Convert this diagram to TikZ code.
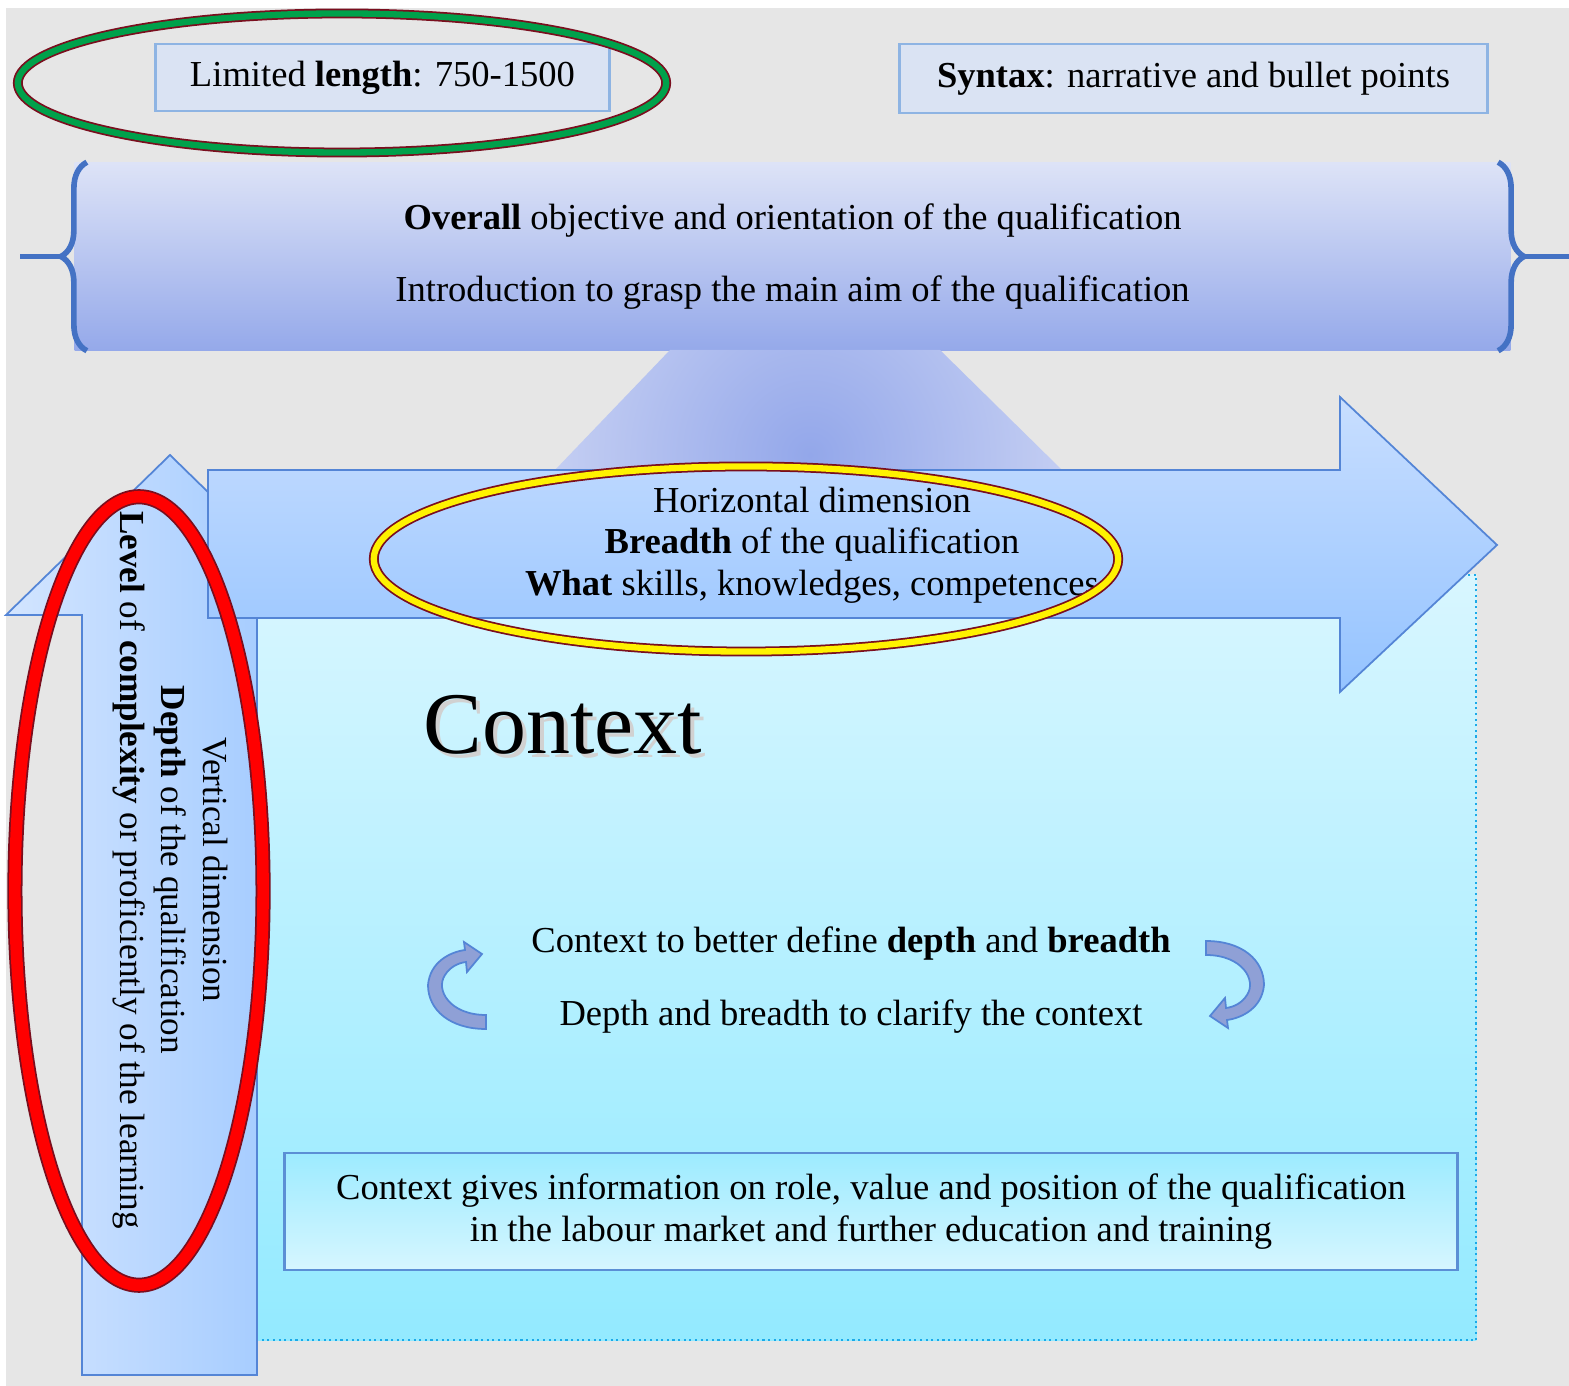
\documentclass[tikz,border=0pt]{standalone}
\usepackage{fontspec}
\setmainfont{Liberation Serif}
\usetikzlibrary{positioning,shapes.geometric,calc,decorations.pathreplacing}

\definecolor{bggray}{HTML}{E6E6E6}
\definecolor{tagfill}{HTML}{DAE3F3}
\definecolor{tagedge}{HTML}{8EB4E3}
\definecolor{bracecol}{HTML}{4472C4}
\definecolor{arrowedge}{HTML}{5485D6}
\definecolor{ringedge}{HTML}{7A0E1E}
\definecolor{ringgreen}{HTML}{00A14B}
\definecolor{ctxedge}{HTML}{1BA9E8}
\definecolor{turnfill}{HTML}{8FA0D6}
\definecolor{topA}{HTML}{DDE3F7}
\definecolor{topB}{HTML}{95A9EA}
\definecolor{funnelin}{HTML}{93A7EA}
\definecolor{funnelout}{HTML}{D8DEF6}
\definecolor{ctxA}{HTML}{D8F6FF}
\definecolor{ctxB}{HTML}{93EAFF}
\definecolor{infoA}{HTML}{9DEBFF}
\definecolor{infoB}{HTML}{D6F6FF}
\definecolor{infoedge}{HTML}{5B8FD5}
\definecolor{harrA}{HTML}{C8DEFF}
\definecolor{harrB}{HTML}{94C3FF}
\definecolor{varrA}{HTML}{D3E5FF}
\definecolor{varrB}{HTML}{9AC6FF}

\tikzset{
  turnarr/.pic={
    \filldraw[fill=turnfill, draw=arrowedge, line width=0.5pt]
      (29,30) .. controls (-7,30) and (-22,5) .. (-12,-10)
      .. controls (-7,-18) and (1,-22) .. (9,-23) -- (10,-13) -- (25,-31)
      -- (7,-43) -- (8,-35) .. controls (-7,-33) and (-27,-23) .. (-29,0)
      .. controls (-29,25) and (-7,44) .. (29,44) -- cycle;
  }
}

\begin{document}
\begin{tikzpicture}[
  x=0.01cm, y=-0.01cm,
  txt/.style={font=\fontsize{10.4}{11.8}\selectfont, align=center, inner sep=0pt},
  tagbox/.style={rectangle, draw=tagedge, line width=0.8pt, fill=tagfill,
                 txt},
  topbox/.style={rectangle, top color=topA, bottom color=topB, txt},
  ctxbox/.style={rectangle, top color=ctxA, bottom color=ctxB,
                 draw=ctxedge, densely dotted, line width=0.6pt},
  infobox/.style={rectangle, top color=infoA, bottom color=infoB,
                  draw=infoedge, line width=0.7pt, txt},
  ring/.style={ellipse, draw=ringedge, line width=0.5pt, double=#1,
               double distance=1.8pt, inner sep=0pt},
  curly/.style={draw=bracecol, line width=1.6pt, decorate,
                decoration={brace, amplitude=0.26cm}},
  edgeline/.style={draw=bracecol, line width=1.6pt},
  blockarr/.style={draw=arrowedge, line width=0.5pt}
]
\useasboundingbox (0,0) rectangle (1569,1386);
\fill[bggray] (6,8) rectangle (1569,1386);

% length and syntax
\node[tagbox, minimum width=4.53cm, minimum height=0.67cm] (lenbox)
  at (382.5,77.5) {Limited \textbf{length}: 750-1500};
\node[tagbox, minimum width=5.87cm, minimum height=0.69cm] (synbox)
  at (1193.5,78.5) {\textbf{Syntax}: narrative and bullet points};

% overall objective with brackets
\node[topbox, minimum width=14.35cm, minimum height=1.87cm] (overall)
  at (792.5,256.5) {\textbf{Overall} objective and orientation of the qualification\\[8.8pt]
  Introduction to grasp the main aim of the qualification};
\draw[curly] ($(overall.south west)+(13,0)$) -- ($(overall.north west)+(13,0)$);
\draw[curly] ($(overall.north east)+(-13,0)$) -- ($(overall.south east)+(-13,0)$);
\coordinate (lcusp) at ($(overall.west)+(-13,0)$);
\coordinate (rcusp) at ($(overall.east)+(13,0)$);
\coordinate (lend) at (20,256.5);
\coordinate (rend) at (1569,256.5);
\draw[edgeline] (lcusp) -- (lend);
\draw[edgeline] (rcusp) -- (rend);

% funnel
\begin{scope}
  \clip (670,350) -- (940,350) -- (1062,470) -- (555,470) -- cycle;
  \shade[inner color=funnelin, outer color=funnelout] (810,455) circle (3.6cm);
\end{scope}

% context area
\node[ctxbox, minimum width=13.94cm, minimum height=7.65cm] (ctx)
  at (779,957.5) {};

% vertical arrow
\filldraw[blockarr, left color=varrA, right color=varrB]
  (82,1375) -- (82,615) -- (6,615) -- (170,455) -- (334,615)
  -- (257,615) -- (257,1375) -- cycle;

% horizontal arrow
\filldraw[blockarr, top color=harrA, bottom color=harrB]
  (208,470) -- (1340,470) -- (1340,397) -- (1497,545) -- (1340,692)
  -- (1340,618) -- (208,618) -- cycle;

% texts
\node[txt] (breadth) at (812,545)
  {Horizontal dimension\\\textbf{Breadth} of the qualification\\
   \textbf{What} skills, knowledges, competences};
\node[txt, font=\fontsize{10}{11.8}\selectfont, rotate=-90] (depth) at (170,870)
  {Vertical dimension\\\textbf{Depth} of the qualification\\
   \textbf{Level} of \textbf{complexity} or proficiently of the learning};
\node[font=\fontsize{25}{30}\selectfont, text=black!18, inner sep=0pt]
  (ctxshadow) at (567,729) {Context};
\node[font=\fontsize{25}{30}\selectfont, inner sep=0pt]
  (ctxtitle) at (563,725) {Context};
\node[txt] (loop) at (851,980)
  {Context to better define \textbf{depth} and \textbf{breadth}\\[8.8pt]
   Depth and breadth to clarify the context};
\pic (lturn) at (457,985) {turnarr};
\pic[rotate=180] (rturn) at (1235,985) {turnarr};
\node[infobox, minimum width=11.72cm, minimum height=1.17cm] (role)
  at (871,1211.5)
  {Context gives information on role, value and position of the qualification\\
   in the labour market and further education and training};

% highlight rings
\node[ring=ringgreen, minimum width=6.48cm, minimum height=1.39cm]
  (lenring) at (342,83) {};
\node[ring=yellow, minimum width=7.44cm, minimum height=1.85cm]
  (widthring) at (746,559) {};
\node[ring=red, double distance=3.3pt, minimum width=2.48cm,
      minimum height=7.88cm] (depthring) at (139,891) {};
\end{tikzpicture}
\end{document}
